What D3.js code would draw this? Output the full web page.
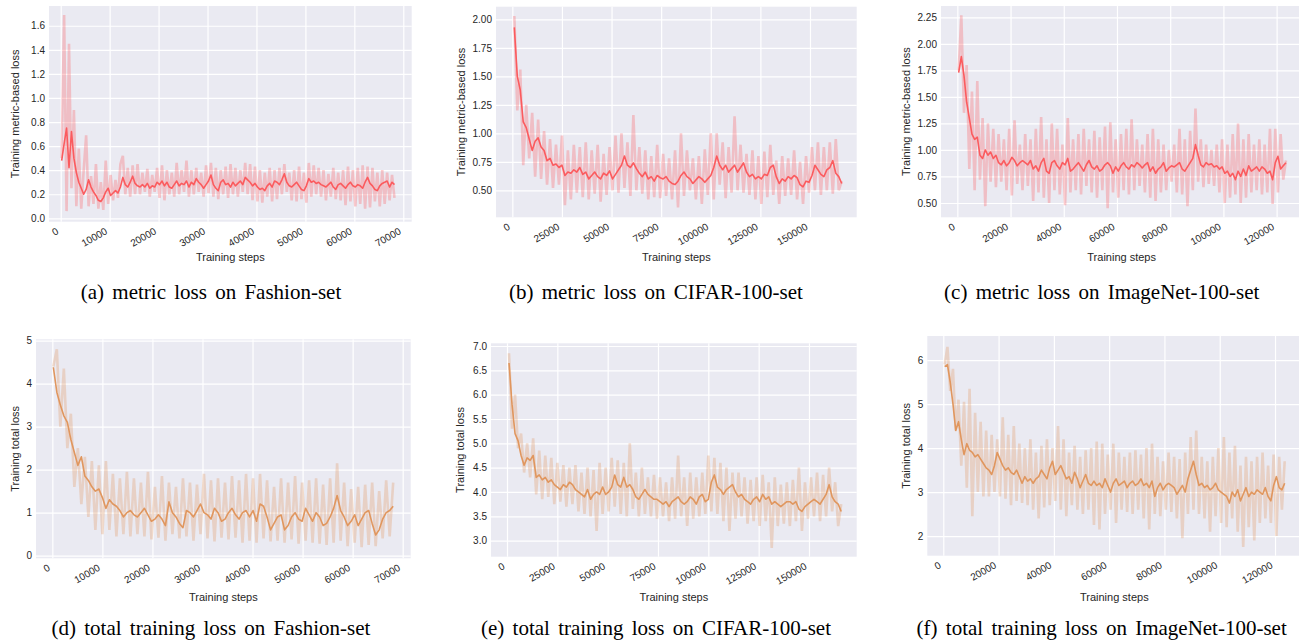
<!DOCTYPE html>
<html><head><meta charset="utf-8">
<script src="https://cdn.jsdelivr.net/npm/d3@7"></script>
<style>body{margin:0;background:#fff}</style>
</head><body>
<svg id="chart" width="1299" height="640"></svg>
<script>
// ---------------- DATA ----------------
const captions = [
  "(a) metric loss on Fashion-set",
  "(b) metric loss on CIFAR-100-set",
  "(c) metric loss on ImageNet-100-set",
  "(d) total training loss on Fashion-set",
  "(e) total training loss on CIFAR-100-set",
  "(f) total training loss on ImageNet-100-set"
];
const xLabel = "Training steps";
const yLabelMetric = "Training metric-based loss";
const yLabelTotal = "Training total loss";

const xTicksFashion = [0, 10000, 20000, 30000, 40000, 50000, 60000, 70000];
const xTicksCifar = [0, 25000, 50000, 75000, 100000, 125000, 150000];
const xTicksImagenet = [0, 20000, 40000, 60000, 80000, 100000, 120000];
const yTicksFashionMetric = [0.0, 0.2, 0.4, 0.6, 0.8, 1.0, 1.2, 1.4, 1.6];
const yTicksCifarMetric = [0.50, 0.75, 1.00, 1.25, 1.50, 1.75, 2.00];
const yTicksImagenetMetric = [0.50, 0.75, 1.00, 1.25, 1.50, 1.75, 2.00, 2.25];
const yTicksFashionTotal = [0, 1, 2, 3, 4, 5];
const yTicksCifarTotal = [3.0, 3.5, 4.0, 4.5, 5.0, 5.5, 6.0, 6.5, 7.0];
const yTicksImagenetTotal = [2, 3, 4, 5, 6];

// logging: first step and step interval of each run
const fashionFirstStep = 200, fashionEvery = 500;      // (a)
const cifarFirstStep = 1000, cifarEvery = 1500;        // (b), (e)
const imagenetFirstStep = 500, imagenetEvery = 1000;   // (c), (f)
const fashionTotalFirstStep = 200, fashionTotalEvery = 700; // (d)

const fashionMetricRaw = [
0.5,1.69,0.06,1.45,0.25,0.9,0.1,0.58,0.08,0.4,
0.69,0.1,0.35,0.12,0.45,0.08,0.3,0.07,0.48,0.12,
0.36,0.15,0.32,0.17,0.45,0.52,0.2,0.42,0.18,0.44,
0.2,0.45,0.2,0.38,0.22,0.41,0.18,0.36,0.22,0.42,
0.17,0.44,0.15,0.4,0.2,0.38,0.18,0.46,0.2,0.4,
0.22,0.48,0.18,0.4,0.2,0.42,0.22,0.38,0.18,0.44,
0.21,0.46,0.18,0.42,0.16,0.4,0.2,0.43,0.17,0.45,
0.2,0.42,0.18,0.4,0.22,0.46,0.2,0.45,0.15,0.43,
0.14,0.4,0.13,0.38,0.18,0.42,0.14,0.4,0.16,0.42,
0.2,0.45,0.22,0.38,0.15,0.4,0.14,0.43,0.16,0.38,
0.13,0.46,0.18,0.44,0.2,0.42,0.18,0.4,0.15,0.37,
0.18,0.42,0.16,0.38,0.15,0.4,0.11,0.43,0.14,0.4,
0.1,0.42,0.12,0.44,0.08,0.43,0.09,0.42,0.14,0.38,
0.1,0.4,0.12,0.38,0.15,0.36,0.17];
const fashionMetricSmooth = [
0.48,0.62,0.75,0.42,0.72,0.5,0.38,0.3,0.25,0.2,
0.24,0.32,0.26,0.22,0.19,0.15,0.14,0.17,0.22,0.25,
0.19,0.21,0.23,0.21,0.26,0.34,0.28,0.26,0.3,0.35,
0.29,0.27,0.26,0.28,0.26,0.29,0.25,0.27,0.26,0.3,
0.28,0.31,0.27,0.3,0.26,0.25,0.28,0.31,0.27,0.29,
0.28,0.31,0.26,0.3,0.28,0.33,0.3,0.28,0.25,0.28,
0.31,0.36,0.28,0.25,0.23,0.3,0.32,0.28,0.29,0.26,
0.3,0.27,0.29,0.31,0.28,0.34,0.32,0.3,0.27,0.29,
0.26,0.24,0.25,0.23,0.27,0.29,0.26,0.31,0.3,0.28,
0.32,0.37,0.3,0.27,0.26,0.28,0.3,0.27,0.24,0.23,
0.27,0.33,0.3,0.31,0.29,0.3,0.28,0.27,0.26,0.28,
0.3,0.26,0.24,0.28,0.29,0.27,0.25,0.28,0.3,0.27,
0.26,0.28,0.27,0.25,0.3,0.34,0.29,0.27,0.24,0.23,
0.27,0.29,0.3,0.31,0.26,0.3,0.28];

const cifarMetricRaw = [
2.03,1.2,1.56,0.72,1.25,0.78,1.18,0.62,1.12,0.6,
1.02,0.55,0.95,0.52,0.9,0.55,0.98,0.37,0.85,0.42,
0.9,0.48,0.88,0.44,0.92,0.42,0.85,0.47,0.9,0.4,
0.82,0.46,0.88,0.5,0.98,0.48,1.0,0.52,0.92,0.45,
1.16,0.5,0.88,0.47,0.85,0.42,0.8,0.44,0.9,0.43,
0.82,0.45,0.78,0.42,0.85,0.35,1.0,0.45,0.85,0.5,
0.78,0.42,0.8,0.38,0.86,0.46,1.0,0.42,1.0,0.55,
0.92,0.43,0.88,0.48,1.15,0.5,0.9,0.48,0.82,0.46,
0.85,0.42,0.8,0.38,0.84,0.44,0.9,0.46,0.76,0.38,
0.8,0.45,0.78,0.46,0.85,0.42,0.75,0.38,0.8,0.48,
0.88,0.5,0.92,0.46,0.88,0.5,0.92,0.47,0.95,0.5,
0.58];
const cifarMetricSmooth = [
1.93,1.5,1.38,1.1,1.05,0.95,0.85,0.93,0.96,0.88,
0.85,0.76,0.78,0.72,0.73,0.7,0.72,0.63,0.66,0.65,
0.68,0.66,0.7,0.64,0.66,0.6,0.63,0.66,0.62,0.6,
0.65,0.63,0.67,0.6,0.64,0.68,0.72,0.8,0.72,0.7,
0.74,0.69,0.65,0.62,0.66,0.6,0.62,0.58,0.63,0.61,
0.6,0.62,0.58,0.56,0.55,0.58,0.63,0.66,0.62,0.6,
0.56,0.59,0.62,0.6,0.57,0.6,0.63,0.7,0.8,0.72,
0.68,0.72,0.66,0.69,0.72,0.66,0.7,0.74,0.66,0.62,
0.64,0.6,0.62,0.6,0.64,0.63,0.7,0.72,0.62,0.56,
0.6,0.58,0.62,0.6,0.63,0.61,0.55,0.53,0.58,0.57,
0.63,0.72,0.68,0.64,0.62,0.68,0.7,0.76,0.65,0.62,
0.56];

const imagenetMetricRaw = [
1.75,2.27,1.35,1.8,0.82,1.55,0.62,1.65,0.72,1.3,
0.47,1.25,0.7,1.2,0.65,1.15,0.7,1.1,0.62,1.2,
0.57,1.28,0.68,1.05,0.62,1.15,0.66,1.1,0.52,1.2,
0.6,1.31,0.55,1.1,0.5,1.25,0.62,1.2,0.58,1.05,
0.48,1.3,0.6,1.1,0.62,1.15,0.58,1.2,0.66,1.1,
0.6,1.18,0.55,1.12,0.62,1.22,0.45,1.26,0.6,1.1,
0.55,1.15,0.62,1.2,0.58,1.29,0.62,1.1,0.66,1.05,
0.6,1.15,0.55,1.2,0.52,1.1,0.6,1.05,0.62,1.0,
0.7,1.05,0.6,1.2,0.58,1.1,0.47,1.18,0.62,1.39,
0.7,1.1,0.65,1.05,0.68,1.0,0.66,1.05,0.6,1.1,
0.5,1.05,0.55,1.15,0.58,1.25,0.5,1.1,0.55,1.15,
0.6,1.05,0.62,1.1,0.58,1.05,0.6,1.2,0.49,1.2,
0.6,1.15,0.72,0.9];
const imagenetMetricSmooth = [
1.73,1.88,1.7,1.45,1.3,1.15,1.1,1.12,0.95,0.92,
1.0,0.95,0.98,0.92,0.95,0.88,0.86,0.9,0.85,0.88,
0.93,0.9,0.85,0.88,0.9,0.88,0.86,0.9,0.82,0.85,
0.8,0.88,0.92,0.8,0.78,0.88,0.9,0.85,0.82,0.88,
0.86,0.92,0.8,0.82,0.85,0.88,0.84,0.8,0.86,0.9,
0.84,0.82,0.85,0.8,0.82,0.86,0.88,0.85,0.78,0.84,
0.8,0.85,0.88,0.84,0.82,0.86,0.84,0.88,0.86,0.83,
0.86,0.88,0.8,0.84,0.78,0.82,0.84,0.88,0.8,0.83,
0.85,0.84,0.86,0.88,0.82,0.8,0.84,0.88,0.92,1.05,
0.95,0.86,0.84,0.88,0.86,0.87,0.84,0.85,0.82,0.84,
0.78,0.8,0.75,0.78,0.72,0.8,0.75,0.82,0.76,0.85,
0.8,0.82,0.84,0.8,0.84,0.82,0.78,0.8,0.72,0.88,
0.94,0.82,0.85,0.88];

const fashionTotalRaw = [
4.4,4.8,3.0,4.35,2.5,3.3,1.6,2.5,1.2,2.3,
0.9,2.2,0.6,2.1,0.5,2.2,0.6,1.9,0.45,1.8,
0.5,1.95,0.45,1.8,0.5,1.7,0.45,1.95,0.38,1.6,
0.42,1.85,0.35,1.7,0.5,1.6,0.4,1.8,0.45,1.7,
0.35,1.65,0.5,1.9,0.4,1.75,0.33,1.8,0.42,1.7,
0.38,1.85,0.42,1.75,0.3,1.9,0.35,1.8,0.3,1.9,
0.4,1.75,0.33,1.6,0.35,1.8,0.3,1.7,0.38,1.85,
0.28,1.7,0.35,1.75,0.3,1.8,0.28,1.65,0.25,1.8,
0.3,2.15,0.35,1.7,0.22,1.55,0.3,1.6,0.2,1.65,
0.25,1.7,0.22,1.5,0.4,1.75,0.45,1.7];
const fashionTotalSmooth = [
4.38,3.8,3.5,3.25,3.1,2.7,2.4,2.1,2.3,1.85,
1.75,1.6,1.5,1.55,1.35,1.1,1.3,1.2,1.15,1.05,
0.9,1.0,1.05,0.95,0.9,1.0,1.1,0.95,0.8,0.85,
0.95,0.85,0.7,1.25,1.0,0.9,0.75,0.65,1.05,1.0,
0.9,1.05,1.2,1.0,0.95,0.85,1.1,1.0,0.8,0.85,
1.0,1.1,0.95,0.85,1.0,1.05,0.9,1.05,0.8,1.2,
1.15,0.9,0.6,0.75,0.9,0.95,0.6,0.7,0.9,1.0,
0.85,0.8,1.1,0.95,0.8,1.0,0.9,0.7,0.75,0.9,
1.1,1.4,1.05,0.9,0.7,0.8,0.95,0.7,0.85,1.0,
1.05,0.75,0.48,0.6,0.85,1.0,1.05,1.15];

const cifarTotalRaw = [
6.85,5.3,6.0,4.9,5.2,4.4,5.0,4.3,5.1,3.95,
4.85,3.85,4.75,3.9,4.7,3.75,4.6,3.8,4.55,3.7,
4.5,3.75,4.55,3.6,4.4,3.55,4.5,3.5,4.45,3.2,
4.6,3.55,4.5,3.6,4.7,3.7,4.65,3.55,4.6,3.5,
5.0,3.65,4.4,3.5,4.5,3.55,4.3,3.5,4.35,3.45,
4.3,3.5,4.2,3.4,4.3,3.45,4.75,3.5,4.3,3.3,
4.4,3.45,4.3,3.5,4.4,3.55,4.75,3.6,4.7,3.55,
4.6,3.4,4.5,3.2,4.4,3.45,4.4,3.5,4.3,3.35,
4.25,3.4,4.3,3.3,4.35,3.4,4.2,2.85,4.3,3.3,
4.15,3.35,4.2,3.3,4.25,3.4,4.5,3.2,4.2,3.45,
4.3,3.5,4.4,3.4,4.35,3.5,4.5,3.6,4.2,3.3,
3.75];
const cifarTotalSmooth = [
6.65,5.8,5.2,5.05,4.75,4.55,4.7,4.65,4.75,4.3,
4.35,4.25,4.3,4.2,4.25,4.15,4.1,4.05,4.15,4.1,
4.2,4.15,4.05,4.0,3.95,3.9,4.05,3.85,3.95,4.0,
3.95,4.1,3.95,4.0,4.1,4.35,4.15,4.1,4.3,4.1,
4.15,4.05,3.9,3.85,3.95,4.05,3.95,3.9,3.85,3.85,
3.8,3.75,3.8,3.7,3.8,3.85,3.9,3.8,3.75,3.8,
3.9,3.85,3.75,3.9,3.95,3.8,3.85,4.2,4.35,4.1,
4.05,3.95,4.05,4.1,4.15,4.0,3.9,3.95,3.85,3.8,
3.75,3.85,3.9,3.8,3.95,3.85,3.9,3.75,3.8,3.75,
3.7,3.75,3.8,3.8,3.75,3.8,3.65,3.6,3.7,3.75,
3.8,3.85,3.8,3.75,3.85,3.95,4.15,3.9,3.8,3.75,
3.6];

const imagenetTotalRaw = [
5.9,6.3,5.3,5.8,4.4,5.1,3.6,5.05,3.1,5.35,
2.45,4.8,3.0,4.6,2.9,4.4,2.9,4.3,3.0,4.2,
2.9,4.7,2.85,4.3,2.7,4.5,2.8,4.1,2.75,4.0,
2.7,4.2,2.6,3.9,2.4,4.05,2.65,4.2,2.7,4.0,
2.8,4.5,2.6,4.2,2.45,3.9,2.7,4.05,2.6,3.8,
2.5,3.95,2.6,4.0,2.25,4.15,2.15,4.1,2.5,3.85,
2.6,4.1,2.3,3.9,2.6,3.8,2.55,3.9,2.5,3.95,
2.6,3.85,2.4,4.0,2.15,4.1,2.5,3.8,2.45,3.7,
2.6,3.9,2.55,3.8,2.4,3.75,1.95,3.9,2.5,4.25,
2.6,4.4,2.5,3.8,2.4,3.7,2.1,3.8,2.45,4.0,
2.3,4.25,2.2,3.9,2.4,4.05,2.1,3.6,1.75,3.8,
2.2,3.7,1.9,3.8,2.3,3.9,2.4,3.6,2.3,3.85,
2.0,3.8,2.6,3.7];
const imagenetTotalSmooth = [
5.85,5.9,5.5,5.0,4.4,4.6,4.2,3.85,4.1,3.95,
3.9,3.8,3.85,3.75,3.65,3.55,3.5,3.4,3.6,3.9,
3.75,3.6,3.5,3.55,3.45,3.4,3.5,3.35,3.2,3.35,
3.25,3.3,3.2,3.3,3.35,3.5,3.4,3.3,3.55,3.7,
3.4,3.5,3.6,3.45,3.3,3.35,3.2,3.45,3.3,3.1,
3.25,3.4,3.2,3.15,3.25,3.15,3.2,3.1,3.3,3.15,
3.0,3.2,3.3,3.15,3.2,3.25,3.1,3.2,3.25,3.15,
3.2,3.3,3.15,3.2,3.1,3.25,2.9,3.1,3.2,3.05,
3.15,3.2,3.15,3.1,2.95,3.05,3.15,3.0,3.3,3.5,
3.7,3.4,3.15,3.2,3.1,3.15,3.05,3.1,3.2,3.05,
3.0,2.95,2.9,2.75,3.0,2.9,3.05,2.8,2.95,3.1,
2.9,3.0,2.95,3.05,3.0,2.95,3.1,2.9,2.8,3.15,
3.35,3.1,3.05,3.2];

// ---------------- LAYOUT / STYLE ----------------
const RED = "#fb5b5e", ORANGE = "#e0965e";
const panels = [
  {raw: fashionMetricRaw, smooth: fashionMetricSmooth, first: fashionFirstStep, every: fashionEvery, color: RED,
   rect: [49, 6, 411.7, 221.7], xDom: [-2390, 71720], yDom: [-0.028, 1.764],
   xTicks: xTicksFashion, yTicks: yTicksFashionMetric, yFmt: ".1f", yLabel: yLabelMetric, yLabelX: 15,
   caption: captions[0], capX: 211, capY: 299, xLabelY: 261},
  {raw: cifarMetricRaw, smooth: cifarMetricSmooth, first: cifarFirstStep, every: cifarEvery, color: RED,
   rect: [496, 6.7, 856.7, 217.3], xDom: [-8230, 173540], yDom: [0.263, 2.111],
   xTicks: xTicksCifar, yTicks: yTicksCifarMetric, yFmt: ".2f", yLabel: yLabelMetric, yLabelX: 460.7,
   caption: captions[1], capX: 656, capY: 299, xLabelY: 261},
  {raw: imagenetMetricRaw, smooth: imagenetMetricSmooth, first: imagenetFirstStep, every: imagenetEvery, color: RED,
   rect: [941, 6, 1302.3, 217.3], xDom: [-6140, 129650], yDom: [0.365, 2.357],
   xTicks: xTicksImagenet, yTicks: yTicksImagenetMetric, yFmt: ".2f", yLabel: yLabelMetric, yLabelX: 906,
   caption: captions[2], capX: 1101.7, capY: 299, xLabelY: 261},
  {raw: fashionTotalRaw, smooth: fashionTotalSmooth, first: fashionTotalFirstStep, every: fashionTotalEvery, color: ORANGE,
   rect: [36, 339.3, 410.7, 558.3], xDom: [-3263, 71600], yDom: [-0.061, 5.03],
   xTicks: xTicksFashion, yTicks: yTicksFashionTotal, yFmt: "d", yLabel: yLabelTotal, yLabelX: 15,
   caption: captions[3], capX: 211, capY: 635, xLabelY: 600.5},
  {raw: cifarTotalRaw, smooth: cifarTotalSmooth, first: cifarFirstStep, every: cifarEvery, color: ORANGE,
   rect: [491, 343.3, 856.7, 556.7], xDom: [-7947, 173700], yDom: [2.67, 7.055],
   xTicks: xTicksCifar, yTicks: yTicksCifarTotal, yFmt: ".1f", yLabel: yLabelTotal, yLabelX: 460,
   caption: captions[4], capX: 656, capY: 635, xLabelY: 600.5},
  {raw: imagenetTotalRaw, smooth: imagenetTotalSmooth, first: imagenetFirstStep, every: imagenetEvery, color: ORANGE,
   rect: [927.3, 336, 1301.3, 555.7], xDom: [-5790, 129510], yDom: [1.553, 6.548],
   xTicks: xTicksImagenet, yTicks: yTicksImagenetTotal, yFmt: "d", yLabel: yLabelTotal, yLabelX: 906,
   caption: captions[5], capX: 1101.7, capY: 635, xLabelY: 600.5}
];

const svg = d3.select("#chart");
svg.append("rect").attr("width", 1299).attr("height", 640).attr("fill", "#fff");
const SANS = "'Liberation Sans', Arial, Helvetica, sans-serif";
const SERIF = "'Liberation Serif', 'Times New Roman', Times, serif";
const TXT = "#262626";

panels.forEach(p => {
  const [x0, y0, x1, y1] = p.rect;
  const x = d3.scaleLinear().domain(p.xDom).range([x0, x1]);
  const y = d3.scaleLinear().domain(p.yDom).range([y1, y0]);
  const g = svg.append("g");

  g.append("rect").attr("x", x0).attr("y", y0).attr("width", x1 - x0).attr("height", y1 - y0).attr("fill", "#eaeaf2");

  // grid
  g.append("g").attr("transform", `translate(0,${y1})`)
    .call(d3.axisBottom(x).tickValues(p.xTicks).tickSize(-(y1 - y0)).tickFormat(""))
    .call(s => { s.select(".domain").remove(); s.selectAll("line").attr("stroke", "#fff").attr("stroke-width", 1.2); });
  g.append("g").attr("transform", `translate(${x0},0)`)
    .call(d3.axisLeft(y).tickValues(p.yTicks).tickSize(-(x1 - x0)).tickFormat(""))
    .call(s => { s.select(".domain").remove(); s.selectAll("line").attr("stroke", "#fff").attr("stroke-width", 1.2); });

  // series
  const line = d3.line().x((d, i) => x(p.first + i * p.every)).y(d => y(d));
  g.append("path").datum(p.raw).attr("d", line).attr("fill", "none")
    .attr("stroke", p.color).attr("stroke-opacity", 0.3).attr("stroke-width", 2.6).attr("stroke-linejoin", "bevel");
  g.append("path").datum(p.smooth).attr("d", line).attr("fill", "none")
    .attr("stroke", p.color).attr("stroke-width", 1.6).attr("stroke-linejoin", "round");

  // x tick labels
  g.append("g").attr("transform", `translate(0,${y1})`)
    .attr("font-family", SANS).attr("font-size", 11).style("color", TXT)
    .call(d3.axisBottom(x).tickValues(p.xTicks).tickSize(0).tickFormat(d3.format("d")))
    .call(s => {
      s.select(".domain").remove();
      s.selectAll("text").attr("y", 0).attr("dy", null).attr("text-anchor", "end")
        .attr("transform", "translate(-2,11.5) rotate(-30)");
    });

  // y tick labels
  g.append("g").attr("transform", `translate(${x0},0)`)
    .attr("font-family", SANS).attr("font-size", 11).style("color", TXT)
    .call(d3.axisLeft(y).tickValues(p.yTicks).tickSize(0).tickPadding(4).tickFormat(d3.format(p.yFmt)))
    .call(s => s.select(".domain").remove());

  // axis titles
  g.append("text").attr("x", (x0 + x1) / 2).attr("y", p.xLabelY).attr("text-anchor", "middle")
    .attr("font-family", SANS).attr("font-size", 11).attr("fill", TXT).text(xLabel);
  g.append("text").attr("transform", `translate(${p.yLabelX},${(y0 + y1) / 2}) rotate(-90)`)
    .attr("text-anchor", "middle").attr("dominant-baseline", "central")
    .attr("font-family", SANS).attr("font-size", 11).attr("fill", TXT).text(p.yLabel);

  // caption
  g.append("text").attr("x", p.capX).attr("y", p.capY).attr("text-anchor", "middle")
    .attr("word-spacing", 3)
    .attr("font-family", SERIF).attr("font-size", 21).attr("fill", "#000").text(p.caption);
});
</script>
</body></html>
